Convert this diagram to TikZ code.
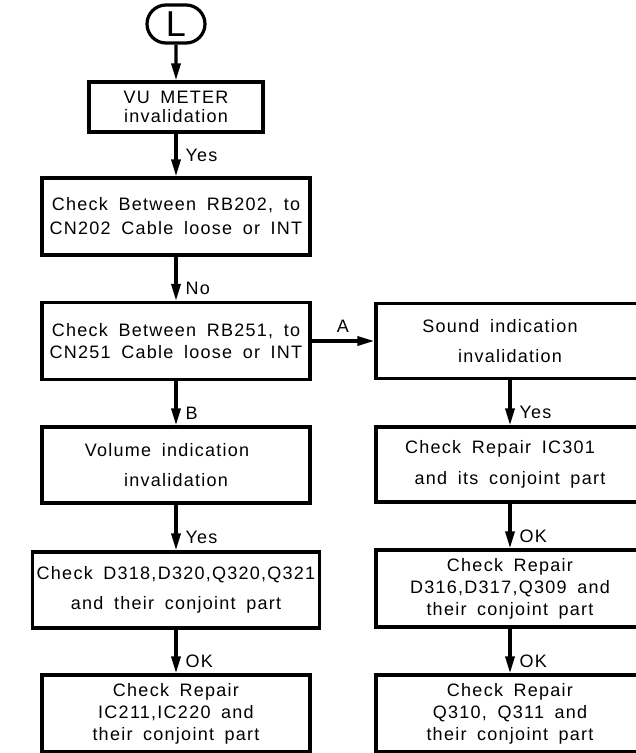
\documentclass[tikz,border=0pt]{standalone}
\usepackage{fontspec}
\setmainfont{Liberation Sans}[LetterSpace=7,WordSpace=1.7]
\usetikzlibrary{arrows.meta,shapes.misc}

\begin{document}
\begin{tikzpicture}[x=1pt, y=-1pt, >={Triangle[length=17pt,width=9pt]},
  every node/.style={font=\fontsize{18}{22}\selectfont},
  box/.style={draw, line width=3.2pt, minimum width=268pt, minimum height=77pt, align=center, inner sep=0pt},
  lbl/.style={inner sep=1pt},
  flow/.style={->, line width=3.2pt}]
  \useasboundingbox (0,0) rectangle (636,753);
  \clip (0,0) rectangle (636,753);
  % left column
  \node[draw, line width=3.2pt, rounded rectangle, minimum width=58pt, minimum height=38pt, inner sep=0pt, font=\fontsize{36}{36}\selectfont] (start) at (176,24) {L};
  \node[box, minimum width=174pt, minimum height=50pt] (vu) at (176,107) {VU METER\\[-3pt]invalidation};
  \node[box] (rb202) at (176,216.5) {Check Between RB202, to\\[2pt]CN202 Cable loose or INT};
  \node[box] (rb251) at (176,341) {Check Between RB251, to\\CN251 Cable loose or INT};
  \node[box, minimum height=76pt] (vol) at (176,465) {Volume indication\hspace*{18pt}\\[8pt]invalidation};
  \node[box, minimum width=287pt, minimum height=76pt] (d318) at (176,590) {Check D318,D320,Q320,Q321\\[8pt]and their conjoint part};
  \node[box] (ic211) at (176,713.5) {Check Repair\\IC211,IC220 and\\their conjoint part};
  % right column
  \node[box, minimum height=75pt] (sound) at (510,341) {Sound indication\hspace*{20pt}\\[8pt]invalidation};
  \node[box, minimum height=75pt] (ic301) at (510,464.5) {Check Repair IC301\hspace*{20pt}\\[9pt]and its conjoint part};
  \node[box] (d316) at (510,588.5) {Check Repair\\D316,D317,Q309 and\\their conjoint part};
  \node[box] (q310) at (510,713.5) {Check Repair\\Q310, Q311 and\\their conjoint part};

  \draw[flow] (start) -- (vu);
  \draw[flow] (vu) -- node[lbl, right, xshift=7pt, pos=0.5]{Yes} (rb202);
  \draw[flow] (rb202) -- node[lbl, right, xshift=7pt, pos=0.72]{No} (rb251);
  \draw[flow] (rb251) -- node[lbl, right, xshift=7pt, pos=0.72]{B} (vol);
  \draw[flow] (vol) -- node[lbl, right, xshift=7pt, pos=0.72]{Yes} (d318);
  \draw[flow] (d318) -- node[lbl, right, xshift=7pt, pos=0.72]{OK} (ic211);
  \draw[flow] (rb251) -- node[lbl, above=6pt]{A} (sound);
  \draw[flow] (sound) -- node[lbl, right, xshift=7pt, pos=0.72]{Yes} (ic301);
  \draw[flow] (ic301) -- node[lbl, right, xshift=7pt, pos=0.72]{OK} (d316);
  \draw[flow] (d316) -- node[lbl, right, xshift=7pt, pos=0.72]{OK} (q310);
\end{tikzpicture}
\end{document}
